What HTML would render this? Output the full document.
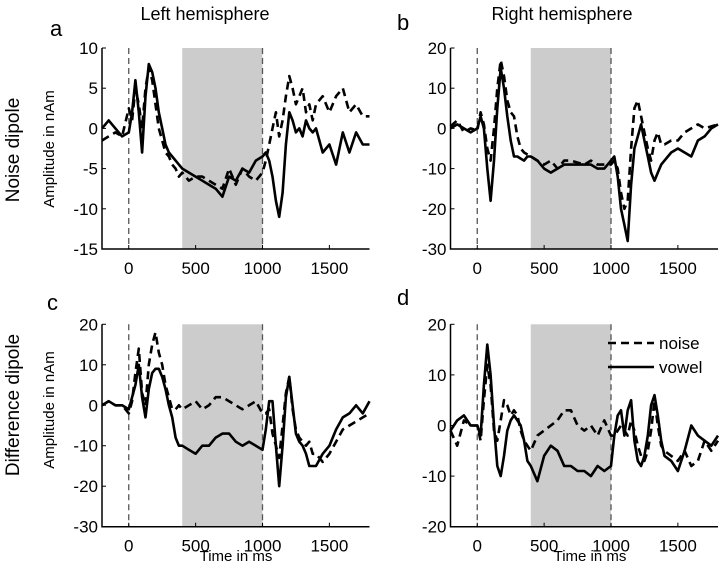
<!DOCTYPE html>
<html><head><meta charset="utf-8"><style>
body{margin:0;background:#fff}
svg text{font-family:"Liberation Sans",Arial,sans-serif;fill:#000}
</style></head><body>
<svg id="fig" width="720" height="569" viewBox="0 0 720 569" xmlns="http://www.w3.org/2000/svg">
<text x="205" y="20" font-size="18" text-anchor="middle">Left hemisphere</text>
<text x="562" y="20" font-size="18" text-anchor="middle">Right hemisphere</text>
<text x="50" y="36" font-size="22">a</text>
<text x="397" y="30" font-size="22">b</text>
<text x="47" y="310" font-size="22">c</text>
<text x="397" y="305" font-size="22">d</text>
<text transform="translate(19,150) rotate(-90)" font-size="19" text-anchor="middle">Noise dipole</text>
<text transform="translate(19,405) rotate(-90)" font-size="19" text-anchor="middle">Difference dipole</text>
<text transform="translate(54,149) rotate(-90)" font-size="15" text-anchor="middle">Amplitude in nAm</text>
<text transform="translate(54,410) rotate(-90)" font-size="15" text-anchor="middle">Amplitude in nAm</text>
<text x="236" y="561" font-size="15" text-anchor="middle">Time in ms</text>
<text x="590" y="561" font-size="15" text-anchor="middle">Time in ms</text>
</svg>
<script>
const times=[-200,-150,-100,-50,0,25,50,75,100,125,150,175,200,225,250,275,300,325,350,375,400,450,500,550,600,650,700,750,800,850,900,950,1000,1025,1050,1075,1100,1125,1150,1175,1200,1225,1250,1275,1300,1325,1350,1375,1400,1450,1500,1550,1600,1650,1700,1750,1800];
const aVowel=[0,1,0,-1,-0.5,2,6,2,-3,4,8,7,5,2,0,-2,-3,-3.5,-4,-4.5,-5,-5.5,-6,-6.5,-7,-7.5,-8.5,-6,-6.5,-5,-5.5,-4,-3.5,-3,-4,-6,-9,-11,-8,-2,2,1,-0.5,0,-1,1,0,-0.5,0,-3,-2,-4.5,-0.5,-3,-0.5,-2,-2];
const aNoise=[-1.5,-1,-0.5,-1,2.5,1,5,3,0,5,7.5,6,3,0,-1.5,-3,-3.5,-4.5,-5,-6,-5.5,-6.5,-6,-6,-6.5,-7,-7.5,-5,-7,-5,-6,-6.5,-5.5,-4,-2,0,2,-1,1,4,6.5,5,3,4,5,2,3,1,3,4,2,4,5,2,3,1.5,1.5];
const bVowel=[0,1,0,-1,0,3,0,-10,-18,-8,5,15,10,3,-3,-7,-7,-7.5,-8,-7,-7,-8,-10,-11,-10,-9,-9,-9,-9,-9,-10,-10,-8,-7,-12,-20,-24,-28,-14,-5,-2,1,-3,-7,-11,-13,-11,-9,-8,-6,-5,-6,-7,-3,-2,0,1];
const bNoise=[0.5,2,-1,0,-0.5,4,1,-5,-8,0,10,17,13,7,4,3,-2,-5,-6,-6.5,-7,-8,-9,-8,-10,-8,-8,-8.5,-9,-8,-9,-9,-9,-8,-10,-16,-20,-18,-5,5,7,3,-1,-5,-8,-3,-1,-4,-4,-3,-3,-1,0,1,0,0.5,1];
const cVowel=[0,1,0,0,-1,2,5,10,2,-3,4,8,9,9,7,4,0,-3,-8,-10,-10,-11,-12,-10,-10,-8,-7,-7,-9,-10,-9,-10,-11,-6,1,1,-10,-20,-10,2,7,0,-7,-9,-10,-12,-15,-15,-15,-12,-10,-6,-3,-2,0,-2,1];
const cNoise=[0,1,0,0,-2,1,8,14,3,0,10,15,18,13,10,5,2,-1,-1,0,-1,0,1,-1,0,2,2,1,0,-1,0,1,-2,-2,-1,-7,-10,-13,-5,3,7,-1,-6,-8,-9,-10,-9,-12,-12,-14,-12,-9,-6,-5,-4,-3,-2];
const dVowel=[-1,1,2,0,0,-2,8,16,10,0,-8,-10,-6,-1,1,2,1,0,-3,-7,-8,-11,-6,-4,-5,-8,-8,-9,-9,-10,-8,-9,-8,-2,2,3,-2,3,5,-3,-7,-8,-6,-2,4,6,2,-3,-6,-7,-9,-5,0,-2,-3,-4,-2];
const dNoise=[-1,-4,1,0,0,-3,5,12,8,-1,-3,1,5,4,2,3,2,-1,-3,-4,-5,-2,-1,0,1,3,3,0,-1,0,-2,1,-2,-2,-1,0,-1,-2,1,-1,-4,-6,-7,-5,-1,5,0,-4,-5,-6,-7,-5,-8,-7,-3,-5,-3];
const xTicks=[0,500,1000,1500];
const yTicksA=[10,5,0,-5,-10,-15];
const yTicksB=[20,10,0,-10,-20,-30];
const yTicksC=[20,10,0,-10,-20,-30];
const yTicksD=[20,10,0,-10,-20];

const NS="http://www.w3.org/2000/svg";
const svg=document.getElementById('fig');
function mk(tag,attrs,parent){const e=document.createElementNS(NS,tag);for(const k in attrs)e.setAttribute(k,attrs[k]);(parent||svg).appendChild(e);return e;}
function panel(id,left,top,bottom,ymax,ymin,yticks,vowel,noise){
  const x0=left, x1=left+267.5;
  const xs=t=>x0+(t+200)/2000*(x1-x0);
  const ys=v=>top+(ymax-v)/(ymax-ymin)*(bottom-top);
  const g=mk('g',{});
  
  
  const sh=mk('rect',{x:xs(400),y:top,width:xs(1000)-xs(400),height:bottom-top,fill:'#cccccc'},g);
  
  
  [0,1000].forEach(t=>{const l=mk('line',{x1:xs(t),x2:xs(t),y1:top,y2:bottom,stroke:'#555','stroke-width':1.3,'stroke-dasharray':'6,4'},g);
    
    });
  const mkPath=(vals,dash,name)=>{let d='';times.forEach((t,i)=>{d+=(i?'L':'M')+xs(t).toFixed(1)+','+ys(vals[i]).toFixed(1);});
    const p=mk('path',{d:d,fill:'none',stroke:'#000','stroke-width':2.6,'stroke-linejoin':'round'},g);
    if(dash)p.setAttribute('stroke-dasharray','8,5');
    
    };
  mkPath(noise,true,'noise-line-'+id);
  mkPath(vowel,false,'vowel-line-'+id);
  const ax=mk('path',{d:`M${x0},${top}L${x0},${bottom}L${x1},${bottom}`,fill:'none',stroke:'#000','stroke-width':1.5},g);
  
  
  yticks.forEach(v=>{mk('line',{x1:x0,x2:x0+4,y1:ys(v),y2:ys(v),stroke:'#000','stroke-width':1},g);
    const t=mk('text',{x:x0-4,y:ys(v)+6,'font-size':17,'text-anchor':'end'},g);t.textContent=v;
    
    });
  xTicks.forEach(v=>{mk('line',{x1:xs(v),x2:xs(v),y1:bottom,y2:bottom-4,stroke:'#000','stroke-width':1},g);
    const t=mk('text',{x:xs(v),y:bottom+25,'font-size':17,'text-anchor':'middle'},g);t.textContent=v;
    
    });
}
panel('a',102,48,249,10,-15,yTicksA,aVowel,aNoise);
panel('b',450.5,48,249,20,-30,yTicksB,bVowel,bNoise);
panel('c',102,324.3,526.7,20,-30,yTicksC,cVowel,cNoise);
panel('d',450.5,324.3,526.7,20,-20,yTicksD,dVowel,dNoise);
const lg=mk('g',{});


mk('line',{x1:608,x2:654,y1:343,y2:343,stroke:'#000','stroke-width':2.6,'stroke-dasharray':'8,5'},lg);
mk('line',{x1:608,x2:654,y1:367,y2:367,stroke:'#000','stroke-width':2.6},lg);
const t1=mk('text',{x:659,y:349,'font-size':17},lg);t1.textContent='noise';


const t2=mk('text',{x:659,y:373,'font-size':17},lg);t2.textContent='vowel';


</script>
</body></html>
